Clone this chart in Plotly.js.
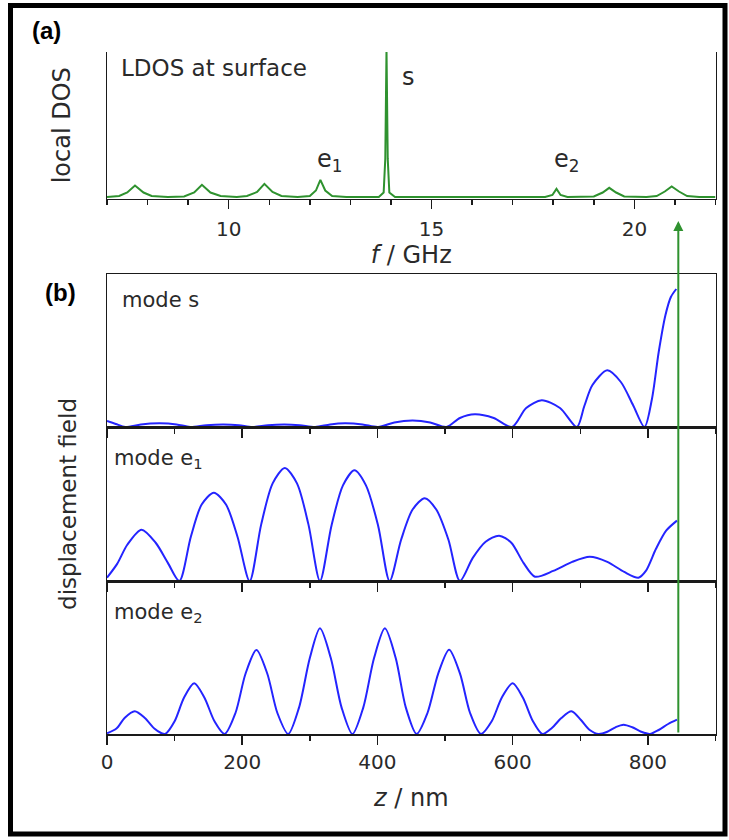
<!DOCTYPE html>
<html>
<head>
<meta charset="utf-8">
<script src="https://cdn.plot.ly/plotly-3.0.1.min.js"></script>
<style>html,body{margin:0;padding:0;background:#fff;}#chart{width:729px;height:840px;}</style>
</head>
<body>
<div id="chart"></div>
<script>
// ---- (a) local density of states at the surface ----
const fGHz = [7.0,7.3,7.5,7.69,7.9,8.1,8.5,
  8.9,9.15,9.34,9.55,9.8,10.2,
  10.45,10.7,10.88,11.08,11.3,11.7,
  12.0,12.15,12.26,12.38,12.55,12.9,
  13.7,13.82,13.86,13.89,13.92,13.96,14.1,
  17.8,17.98,18.08,18.18,18.35,
  19.0,19.22,19.38,19.55,19.75,20.3,
  20.55,20.75,20.92,21.1,21.3,21.6,22.0];
const ldos = [1.5,2.5,6,13,6,2.5,1.5,
  2,6,13.7,6,2.5,1.5,
  2.5,6.5,14.7,6.5,2.5,1.5,
  2.5,8,18.7,8,2.5,1.5,
  1.5,6,40,150,40,6,1.5,
  1.5,3.5,9.7,3.5,1.5,
  2,6,10.7,6,2,1.5,
  2.5,7,12,7,2.5,1.5,1.5];
const fTicks = [10, 15, 20];

// ---- (b) displacement field vs depth ----
const zS = [0,13,27,50,78,103,123,147,172,195,215,238,262,285,308,330,352,378,401,
  425,452,478,502,522,544,572,599,620,643,670,695,706,718,740,760,778,795,806,816,826,834,842];
const uS = [6,3,0,2.6,3.7,2.6,0,1.8,2.5,1.8,0,1.8,2.5,1.8,0,2.6,3.7,2.6,0,
  4.6,6.5,4.6,0,9,12.7,9,0,19,26.7,19,0,21,42,56.7,45,22,0,28,75,112,130,138];

const zE1 = [0,15,30,51,72,90,107, 124,140,158,176,193,211, 228,245,263,281,298,315,
  332,349,366,383,401,418, 435,452,470,487,505,522, 541,560,580,598,616,633,
  660,688,714,740,765,786, 797,812,827,843];
const uE1 = [3.3,17,36,51,38,18,0, 44,76,87.7,76,44,0, 56,97,112.3,97,56,0,
  55,95,110,95,55,0, 41,71,82.3,71,41,0, 23,39,45,38,18,4.3,
  10,19,24,19,9,3.3, 10,32,50,60];

const zE2 = [0,14,26,41,56,70,80,86, 100,114,129,144,159,174, 190,205,221,237,252,268,
  284,300,315,331,347,363, 379,395,411,427,442,458, 474,490,506,522,537,553,
  569,584,600,615,630,644, 658,672,687,701,714,727, 740,752,764,777,790,803, 816,830,843];
const uE2 = [0.7,5.5,16,22.7,16,5.5,1,0, 12.7,36.5,50.7,36.5,12.7,0, 21,60.5,84,60.5,21,0,
  26.4,76,105.7,76,26.4,0, 26.4,76,105.7,76,26.4,0, 21,60.7,84.3,60.7,21,0,
  12.7,36.5,50.7,36.5,12.7,0, 6,16,22.7,14,4,0, 2.3,6.7,9.3,6.7,2.3,0, 4,10,14.3];

const zTicks = [0, 200, 400, 600, 800];
const surfaceZ = 845;   // position of the surface (green arrow), nm

const modeLabels = ['mode s', 'mode e<sub>1</sub>', 'mode e<sub>2</sub>'];

const FONT = '"DejaVu Sans", Verdana, sans-serif';
const BOLD = '"Liberation Sans", Arial, sans-serif';
const TXT = '#2a2a2a';
const BLUE = '#2424ff';
const GREEN = '#2f922f';
const AX = '#1a1a1a';

const traces = [
  {x: fGHz, y: ldos, xaxis: 'x', yaxis: 'y', mode: 'lines', line: {color: GREEN, width: 2}, hoverinfo: 'none'},
  {x: zS, y: uS, xaxis: 'x2', yaxis: 'y2', mode: 'lines', line: {color: BLUE, width: 2, shape: 'spline', smoothing: 0.8}},
  {x: zE1, y: uE1, xaxis: 'x3', yaxis: 'y3', mode: 'lines', line: {color: BLUE, width: 2, shape: 'spline', smoothing: 0.8}},
  {x: zE2, y: uE2, xaxis: 'x4', yaxis: 'y4', mode: 'lines', line: {color: BLUE, width: 2, shape: 'spline', smoothing: 0.8}}
];

const W = 729, H = 840;
const px = v => v / W;
const py = v => 1 - v / H;

function zAxis(anchor, labels, extra) {
  return Object.assign({
    domain: [px(107), px(715.5)], anchor: anchor, range: [0, 900],
    showline: true, linecolor: AX, linewidth: 1.5, mirror: true,
    ticks: 'outside', ticklen: 9, tickwidth: 1.5, tickcolor: AX,
    tickvals: zTicks, showticklabels: labels, ticklabelstandoff: 0,
    tickfont: {family: FONT, size: 20, color: TXT},
    minor: {dtick: 100, tick0: 0, ticks: 'outside', ticklen: 5, tickwidth: 1.5, tickcolor: AX, showgrid: false},
    showgrid: false, zeroline: false, fixedrange: true
  }, extra || {});
}
function uAxis(top, bottom, anchor, extra) {
  return Object.assign({
    domain: [py(bottom), py(top)], anchor: anchor, range: [0, 153],
    showline: true, linecolor: AX, linewidth: 1.5, mirror: true,
    ticks: '', showticklabels: false, showgrid: false, zeroline: false, fixedrange: true
  }, extra || {});
}
function label(x, y, text, size, xanchor, family) {
  return {xref: 'paper', yref: 'paper', x: px(x), y: py(y), xanchor: xanchor || 'left', yanchor: 'middle',
          text: text, showarrow: false, font: {family: family || FONT, size: size, color: family ? '#000' : TXT}};
}

const layout = {
  width: W, height: H, autosize: false,
  margin: {l: 0, r: 0, t: 0, b: 0},
  paper_bgcolor: '#fff', plot_bgcolor: '#fff',
  showlegend: false,
  font: {family: FONT, color: TXT},
  xaxis: {
    domain: [px(107), px(715.5)], anchor: 'y', range: [7, 22],
    showline: true, linecolor: AX, linewidth: 1.5,
    ticks: 'outside', ticklen: 9, tickwidth: 1.5, tickcolor: AX,
    tickvals: fTicks, ticklabelstandoff: 3, tickfont: {family: FONT, size: 20, color: TXT},
    minor: {dtick: 1, tick0: 7, ticks: 'outside', ticklen: 5, tickwidth: 1.5, tickcolor: AX, showgrid: false},
    showgrid: false, zeroline: false, fixedrange: true,
    title: {text: '<i>f</i> / GHz', font: {family: FONT, size: 24, color: TXT}, standoff: 2}
  },
  yaxis: {
    domain: [py(198.5), py(52)], anchor: 'x', range: [0, 147],
    showline: true, linecolor: AX, linewidth: 1.5, mirror: true,
    ticks: '', showticklabels: false, showgrid: false, zeroline: false, fixedrange: true,
    title: {text: 'local DOS', font: {family: FONT, size: 24, color: TXT}, standoff: 28}
  },
  xaxis2: zAxis('y2', false),
  yaxis2: uAxis(274, 427, 'x2'),
  xaxis3: zAxis('y3', false),
  yaxis3: uAxis(427, 581, 'x3', {title: {text: 'displacement field', font: {family: FONT, size: 23, color: TXT}, standoff: 22}}),
  xaxis4: zAxis('y4', true, {title: {text: '<i>z</i> / nm', font: {family: FONT, size: 24, color: TXT}, standoff: 16}}),
  yaxis4: uAxis(581, 734, 'x4'),
  shapes: [
    {type: 'rect', xref: 'paper', yref: 'paper', x0: px(10.5), x1: px(725), y0: py(834), y1: py(5.5),
     line: {color: '#000', width: 5}, fillcolor: 'rgba(0,0,0,0)'}
  ],
  annotations: [
    label(47, 31, '<b>(a)</b>', 24, 'center', BOLD),
    label(60, 292, '<b>(b)</b>', 24, 'center', BOLD),
    label(119, 68, 'LDOS at surface', 23),
    label(400, 77, 's', 24),
    label(315, 160, 'e<sub>1</sub>', 24),
    label(552, 160, 'e<sub>2</sub>', 24),
    label(120, 300, modeLabels[0], 21),
    label(112, 459, modeLabels[1], 21),
    label(112, 613, modeLabels[2], 21),
    {xref: 'x4', yref: 'paper', x: surfaceZ, y: py(221), text: '', showarrow: true,
     axref: 'pixel', ayref: 'pixel', ax: 0, ay: 513,
     arrowcolor: GREEN, arrowwidth: 2, arrowhead: 2, arrowsize: 1, standoff: 0, startstandoff: 0}
  ]
};

Plotly.newPlot('chart', traces, layout, {staticPlot: true, displayModeBar: false});
</script>
</body>
</html>
